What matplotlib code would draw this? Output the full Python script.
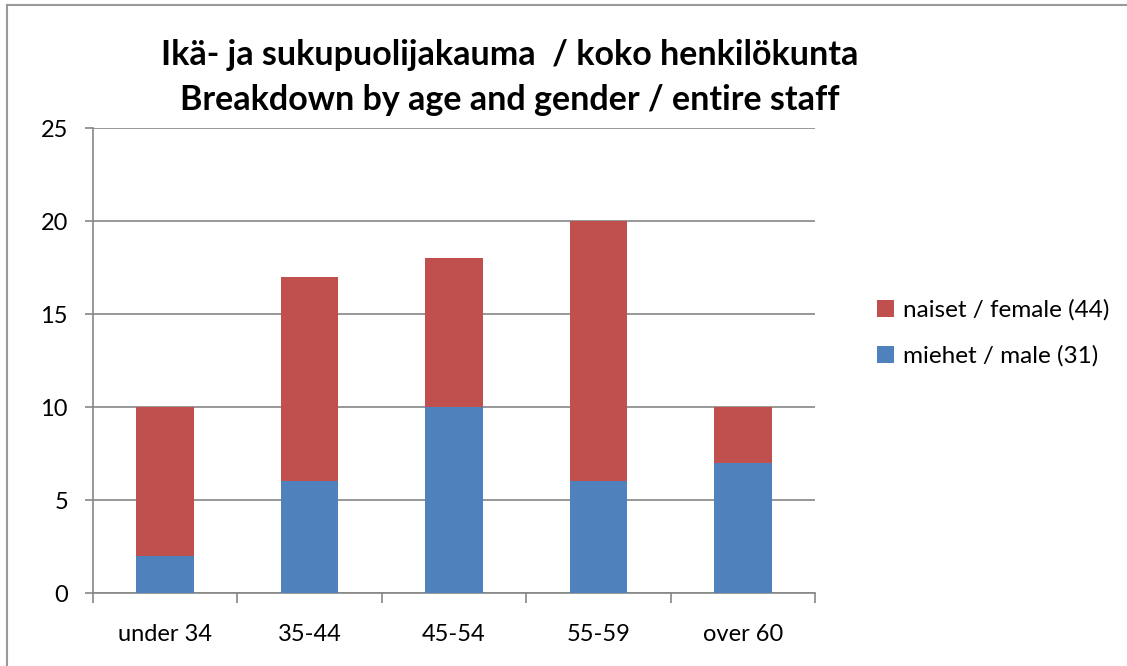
import matplotlib.pyplot as plt
import numpy as np
from matplotlib.lines import Line2D

categories = ['under 34', '35-44', '45-54', '55-59', 'over 60']
male = [2, 6, 10, 6, 7]
female = [8, 11, 8, 14, 3]
yticks = [0, 5, 10, 15, 20, 25]
title = 'Ikä- ja sukupuolijakauma  / koko henkilökunta\nBreakdown by age and gender / entire staff'
lab_f = 'naiset / female (44)'
lab_m = 'miehet / male (31)'

blue = '#4F81BD'
red = '#C0504D'
grid = '#868686'

plt.rcParams['font.family'] = ['Lato', 'DejaVu Sans']

fig = plt.figure(figsize=(11.27, 6.66), dpi=100)
ax = fig.add_axes([0.0825, 0.1096, 0.6407, 0.6982])

x = np.arange(len(categories))
b1 = ax.bar(x, male, width=0.4, color=blue, label=lab_m, zorder=3)
b2 = ax.bar(x, female, width=0.4, bottom=male, color=red, label=lab_f, zorder=3)

ax.set_xlim(-0.5, len(categories) - 0.5)
ax.set_ylim(0, 25)
ax.set_yticks(yticks)
ax.yaxis.grid(True, color=grid, linewidth=1.2, zorder=0)

ax.set_xticks(np.arange(len(categories) + 1) - 0.5)
ax.set_xticklabels([])
ax.set_xticks(x, minor=True)
ax.set_xticklabels(categories, minor=True, fontsize=17)
ax.tick_params(axis='x', which='minor', length=0, pad=22)
ax.tick_params(axis='x', which='major', direction='out', length=7, color=grid, width=1.2)
ax.tick_params(axis='y', direction='out', length=6, color=grid, width=1.2, labelsize=17, pad=12)

for s in ['top', 'right']:
    ax.spines[s].set_visible(False)
for s in ['left', 'bottom']:
    ax.spines[s].set_color(grid)
    ax.spines[s].set_linewidth(1.2)

fig.text(0.4525, 0.884, title, ha='center', va='center', fontsize=24.5,
         fontweight='bold', linespacing=1.5)

fig.legend(handles=[b2, b1], labels=[lab_f, lab_m], loc='center left',
           bbox_to_anchor=(0.759, 0.5), frameon=False, fontsize=17.5,
           handlelength=0.7, handleheight=0.7, handletextpad=0.35, labelspacing=1.0)

# chart area border
fig.add_artist(Line2D([0.0062, 0.0062], [0, 0.9925], color='#999999', lw=1.5))
fig.add_artist(Line2D([0.0062, 1], [0.9925, 0.9925], color='#999999', lw=1.5))

fig.savefig('out.png', dpi=100)
